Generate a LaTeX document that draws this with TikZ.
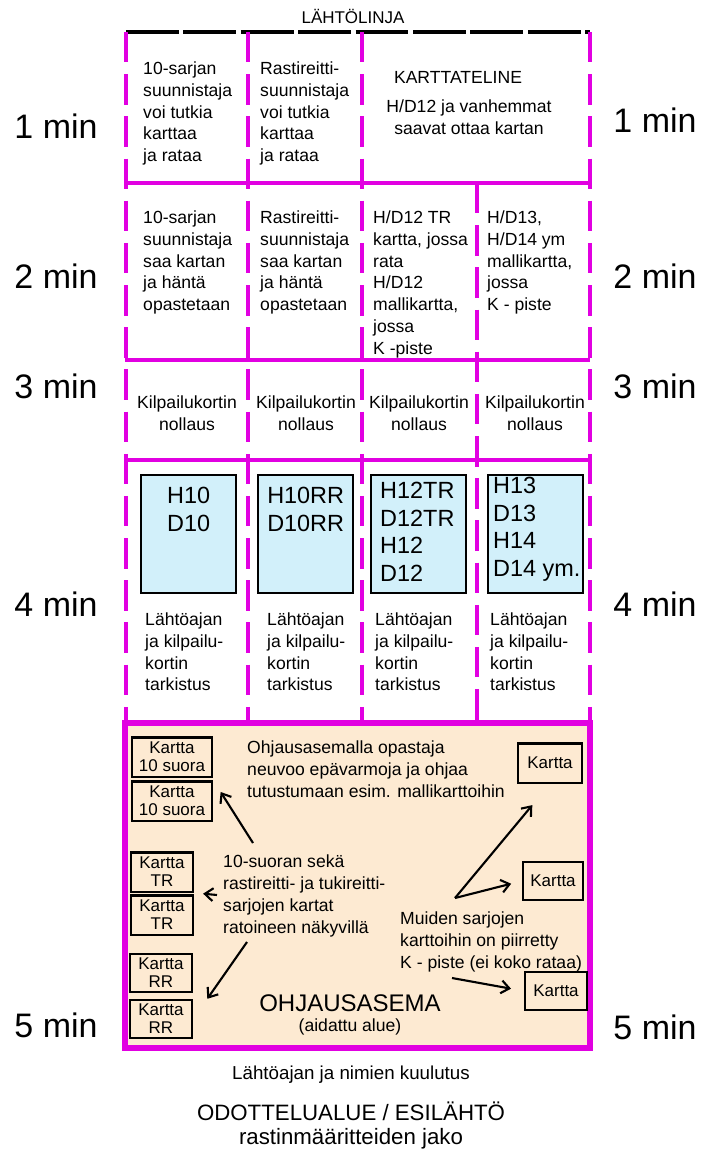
\documentclass[tikz,border=0pt]{standalone}
\usepackage{fontspec}
\setmainfont{Liberation Sans}
\usetikzlibrary{arrows.meta,positioning}
\definecolor{lila}{RGB}{225,0,225}
\definecolor{persikka}{RGB}{253,234,210}
\definecolor{vaaleansininen}{RGB}{210,240,250}

\begin{document}
\begin{tikzpicture}[x=0.03cm, y=-0.03cm,
		raja/.style={draw=lila, line width=3.4pt},
		katko/.style={draw=lila, line width=3.4pt, dash pattern=on 26pt off 10pt},
		teksti/.style={inner sep=0pt, align=left, anchor=north west, font=\fontsize{15}{18.5}\selectfont},
		keski/.style={inner sep=0pt, align=center, font=\fontsize{15}{18.5}\selectfont},
		aika/.style={inner sep=0pt, font=\fontsize{29}{30}\selectfont},
		laatikko/.style={draw, line width=2pt, fill=vaaleansininen, anchor=north west, inner sep=0pt, minimum width=2.85cm, minimum height=3.54cm},
		luokka/.style={inner sep=0pt, anchor=north, font=\fontsize{20}{23.6}\selectfont},
		kartta/.style={draw, line width=2pt, inner sep=0pt, align=center, minimum height=1.18cm, font=\fontsize{14.5}{15.5}\selectfont},
		nuoli/.style={->, line width=1.8pt},
		>={Straight Barb[length=7pt,width=11pt]}]
	\useasboundingbox (0,0) rectangle (704,1157);

	% ohjausasema
	\draw[draw=lila, line width=4.3pt, fill=persikka] (125,723) rectangle (590,1048);

	% ruudukko
	\draw[line width=3.4pt, dash pattern=on 45pt off 4pt] (126,32) -- (590,32);
	\foreach \y in {183,360,460}
		\draw[raja] (125,\y) -- (590,\y);
	\foreach \x in {126,248,362,590}
		\draw[katko] (\x,32) -- (\x,722);
	\draw[katko] (477,183) -- (477,722);

	\node[inner sep=0pt, font=\fontsize{14.5}{15}\selectfont] (lahtolinja) at (353,16) {LÄHTÖLINJA};

	% minuutit
	\foreach \t/\y/\yy in {1/126/120, 2/276/276, 3/386/386, 4/604/604, 5/1025/1027} {
		\node[aika] (vasen\t) at (56,\y) {\t\ min};
		\node[aika] (oikea\t) at (655,\yy) {\t\ min};
	}

	% 1 min
	\node[teksti] (r1a) at (143,62) {10-sarjan\\suunnistaja\\voi tutkia\\karttaa\\ja rataa};
	\node[teksti] (r1b) at (260,62) {Rastireitti-\\suunnistaja\\voi tutkia\\karttaa\\ja rataa};
	\node[keski] (teline) at (458,77) {KARTTATELINE};
	\node[keski] (vanhemmat) at (469,117.5) {H/D12 ja vanhemmat\\saavat ottaa kartan};

	% 2 min
	\node[teksti] (r2a) at (143,211) {10-sarjan\\suunnistaja\\saa kartan\\ja häntä\\opastetaan};
	\node[teksti] (r2b) at (260,211) {Rastireitti-\\suunnistaja\\saa kartan\\ja häntä\\opastetaan};
	\node[teksti] (r2c) at (373,211) {H/D12 TR\\kartta, jossa\\rata\\H/D12\\mallikartta,\\jossa\\K -piste};
	\node[teksti] (r2d) at (487,211) {H/D13,\\H/D14 ym\\mallikartta,\\jossa\\K - piste};

	% 3 min
	\foreach \x [count=\i] in {187,306,419,535}
		\node[keski] (nollaus\i) at (\x,413) {Kilpailukortin\\nollaus};

	% 4 min
	\node[laatikko] (b1) at (140,474) {};
	\node[laatikko] (b2) at (257,474) {};
	\node[laatikko] (b3) at (370,474) {};
	\node[laatikko] (b4) at (487,474) {};
	\node[luokka, align=center, below=0.39cm of b1.north] (l1) {H10\\D10};
	\node[luokka, align=center, below=0.39cm of b2.north] (l2) {H10RR\\D10RR};
	\node[luokka, align=left, anchor=north west] (l3) at (380,482) {H12TR\\D12TR\\H12\\D12};
	\node[luokka, align=left, anchor=north west] (l4) at (493,477) {H13\\D13\\H14\\D14 ym.};
	\foreach \x [count=\i] in {145,267,375,490}
		\node[teksti] (tarkistus\i) at (\x,613) {Lähtöajan\\ja kilpailu-\\kortin\\tarkistus};

	% 5 min
	\node[kartta, minimum width=2.4cm] (k10a) at (172,757) {Kartta\\10 suora};
	\node[kartta, minimum width=2.4cm] (k10b) at (172,801) {Kartta\\10 suora};
	\node[kartta, minimum width=1.86cm] (ktra) at (162,872) {Kartta\\TR};
	\node[kartta, minimum width=1.86cm] (ktrb) at (162,915) {Kartta\\TR};
	\node[kartta, minimum width=1.86cm, minimum height=1.13cm] (krra) at (161,973) {Kartta\\RR};
	\node[kartta, minimum width=1.86cm, minimum height=1.13cm] (krrb) at (161,1019) {Kartta\\RR};
	\node[kartta, minimum width=1.92cm] (ka) at (550,763) {Kartta};
	\node[kartta, minimum width=1.8cm, minimum height=1.14cm] (kb) at (553,881) {Kartta};
	\node[kartta, minimum width=1.86cm, minimum height=1.14cm] (kc) at (556,991) {Kartta};

	\node[teksti] (ohjaus) at (247,741) {Ohjausasemalla opastaja\\neuvoo epävarmoja ja ohjaa\\tutustumaan esim. mallikarttoihin};
	\node[teksti] (suora) at (223,855) {10-suoran sekä\\rastireitti- ja tukireitti-\\sarjojen kartat\\ratoineen näkyvillä};
	\node[teksti] (muiden) at (400,912) {Muiden sarjojen\\karttoihin on piirretty\\K - piste (ei koko rataa)};
	\node[inner sep=0pt, font=\fontsize{20.5}{22}\selectfont] (ohjausasema) at (350,1003) {OHJAUSASEMA};
	\node[inner sep=0pt, font=\fontsize{15}{16}\selectfont] (aidattu) at (350,1027) {(aidattu alue)};

	\coordinate (s1) at (253,843);
	\coordinate (s2) at (217,895);
	\coordinate (s3) at (247,942);
	\coordinate (m1) at (455,898);
	\coordinate (m2) at (452,978);
	\draw[nuoli, shorten >=0.42cm] (s1) -- (k10b.north east);
	\draw[nuoli, shorten >=0.27cm] (s2) -- (ktra.south east);
	\draw[nuoli, shorten >=0.74cm] (s3) -- (krrb.east);
	\draw[nuoli, shorten >=0.83cm] (m1) -- (ka.south);
	\draw[nuoli, shorten >=0.33cm] (m1) -- (kb.west);
	\draw[nuoli, shorten >=0.39cm] (m2) -- (kc.west);

	% odottelualue
	\node[inner sep=0pt, font=\fontsize{16}{18}\selectfont] (kuulutus) at (351,1075) {Lähtöajan ja nimien kuulutus};
	\node[inner sep=0pt, align=center, font=\fontsize{19}{20.5}\selectfont] (odottelu) at (351,1125) {ODOTTELUALUE / ESILÄHTÖ\\rastinmääritteiden jako};
\end{tikzpicture}
\end{document}
